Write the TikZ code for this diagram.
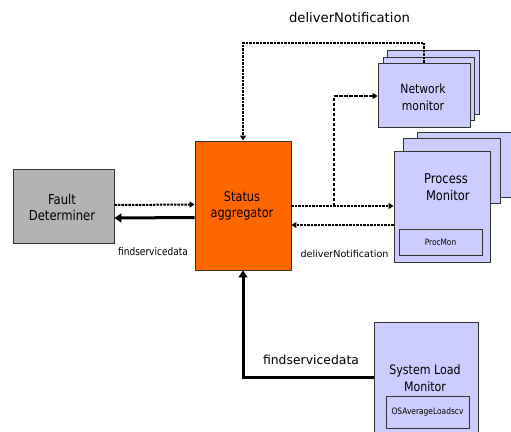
\documentclass[tikz,border=0pt]{standalone}
\usepackage{fontspec}
\setmainfont{DejaVu Sans}
\newfontfamily\cond{DejaVu Sans}[FakeStretch=0.85]
\usetikzlibrary{arrows.meta}
\definecolor{lav}{HTML}{CCCCFF}
\definecolor{orng}{HTML}{FF6600}
\definecolor{gry}{HTML}{B3B3B3}
\definecolor{edgec}{HTML}{333333}
\tikzset{
  box/.style={draw=edgec, line width=0.9pt, inner sep=0pt},
  lbl/.style={inner sep=0pt, align=center},
  dotline/.style={line width=2pt, dash pattern=on 2.5pt off 1pt, -{Triangle[length=5pt,width=6pt]}},
  dashline/.style={line width=1.1pt, dash pattern=on 3.5pt off 1.5pt, -{Triangle[length=5pt,width=6pt]}},
  thickline/.style={line width=3pt, -{Triangle[length=7pt,width=9pt]}},
}
\begin{document}
\begin{tikzpicture}[x=1pt,y=-1pt]
\useasboundingbox (0,0) rectangle (511,431);
\fill[white] (0,0) rectangle (511,431);

% Fault Determiner
\node[box, fill=gry, minimum width=101pt, minimum height=74pt] (fd) at (63.5,206) {};
\node[lbl, font=\cond\fontsize{13.7}{16}\selectfont] (fdt) at (62,207) {Fault\\Determiner};

% Status aggregator
\node[box, fill=orng, minimum width=96pt, minimum height=129pt] (sa) at (243,205.5) {};
\node[lbl, font=\cond\fontsize{13.3}{16}\selectfont] (sat) at (242,206) {Status\\aggregator};

% Network monitor (stacked)
\draw[box, fill=lav] (387,50) rectangle (479,114);
\draw[box, fill=lav] (383,57) rectangle (474,120);
\node[box, fill=lav, minimum width=92pt, minimum height=64pt] (nm) at (424,95) {};
\node[lbl, font=\cond\fontsize{12.7}{17}\selectfont] (nmt) at (423,97) {Network\\monitor};

% Process Monitor (stacked)
\draw[box, fill=lav] (417,132) rectangle (520,197);
\draw[box, fill=lav] (403,138) rectangle (500,203);
\node[box, fill=lav, minimum width=96pt, minimum height=111pt] (pm) at (442,206.5) {};
\node[lbl, font=\cond\fontsize{13.5}{17}\selectfont] (pmt) at (446,187) {Process\\\ Monitor};
\node[box, fill=lav, minimum width=83pt, minimum height=26pt, font=\cond\fontsize{8.7}{10}\selectfont] (pc) at (440.5,242) {ProcMon};

% System Load Monitor
\node[box, fill=lav, minimum width=104pt, minimum height=123pt] (slm) at (426,383.5) {};
\node[lbl, font=\cond\fontsize{13}{17}\selectfont] (slmt) at (425,378) {System Load\\Monitor};
\node[box, fill=lav, minimum width=83pt, minimum height=32pt, font=\cond\fontsize{8.8}{10}\selectfont] (os) at (427.5,412) {OSAverageLoadscv};

% labels
\node[lbl, anchor=base, font=\fontsize{13.2}{15}\selectfont] (l1) at (349.5,22) {deliverNotification};
\node[lbl, anchor=base, font=\fontsize{9.6}{11}\selectfont] (l2) at (344.5,257) {deliverNotification};
\node[lbl, anchor=base, font=\cond\fontsize{10.6}{12}\selectfont] (l3) at (153,255) {findservicedata};
\node[lbl, anchor=base, font=\fontsize{12.4}{14}\selectfont] (l4) at (311,364) {findservicedata};

% connectors
\draw[dotline] ([yshift=1pt]fd.east) -- ([yshift=1pt]sa.west);
\draw[thickline] ([yshift=-12pt]sa.west) -- ([yshift=-12pt]fd.east);
\draw[dotline] ([yshift=-0.5pt]sa.east) -- ([yshift=0.5pt]pm.west);
\draw[dotline] ([yshift=-18.5pt]pm.west) -- ([yshift=-19.5pt]sa.east);
\coordinate (j) at (334,206);
\draw[dashline] (j) |- ([yshift=-1pt]nm.west);
\draw[dotline] (nm.north) -- ++(0,-20) -| (sa.north);
\draw[thickline] ([yshift=6.5pt]slm.west) -| (sa.south);
\end{tikzpicture}
\end{document}
